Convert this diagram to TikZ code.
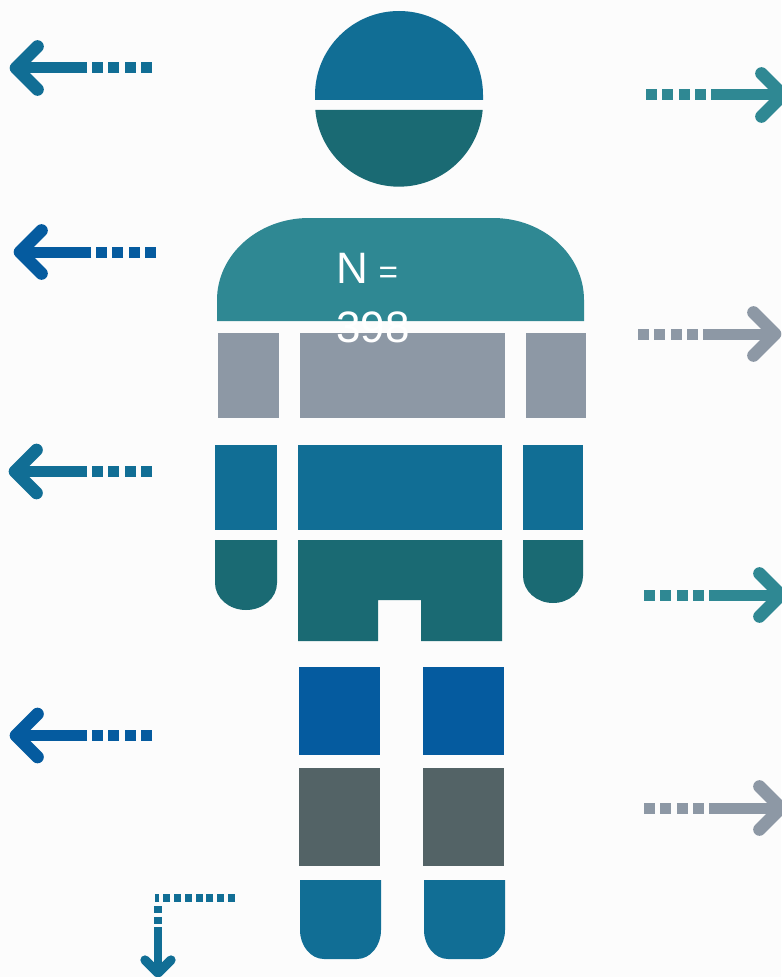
\documentclass[tikz,border=0pt]{standalone}
\usepackage{fontspec}
\setmainfont{Liberation Sans}
\usepackage{tikz}
\usetikzlibrary{calc}

\definecolor{pagebg}{HTML}{FCFCFC}
\definecolor{bodyblue}{HTML}{116E95}
\definecolor{deepblue}{HTML}{055B9F}
\definecolor{bodyteal}{HTML}{2F8893}
\definecolor{darkteal}{HTML}{1A6A73}
\definecolor{bodygray}{HTML}{8D98A5}
\definecolor{slategray}{HTML}{536366}

\begin{document}
\begin{tikzpicture}[
    x=0.75pt, y=-0.75pt,
    shaft/.style={line width=8.25pt},
    wings/.style={line width=9.5pt, line cap=round, line join=round},
    dots/.style={line width=8.25pt, dash pattern=on 8.25pt off 4.1pt},
    thinshaft/.style={line width=5.8pt},
    thinwings/.style={line width=7pt, line cap=round, line join=round},
    thindots/.style={line width=5.8pt, dash pattern=on 5.2pt off 2.9pt},
    label/.style={text=white, font=\fontsize{33}{44.5}\selectfont, align=left, anchor=north west, inner sep=0pt}
]

\useasboundingbox (0,0) rectangle (781,977);
\fill[pagebg] (0,0) rectangle (781,977);

% 1. Head
\fill[bodyblue] (315,100) -- (315,95) arc[start angle=180, end angle=360, radius=84] -- (483,100) -- cycle;
\fill[darkteal] (315.3,110) arc[start angle=175, end angle=5, radius=84] -- cycle;

% 2. Shoulders
\fill[bodyteal] (217,321) -- (217,300) arc[start angle=180, end angle=270, x radius=92, y radius=82]
    -- (493,218) arc[start angle=270, end angle=360, x radius=91, y radius=82] -- (584,321) -- cycle;

% 3. Arms and trunk
\fill[bodygray] (217.5,333) rectangle (279,418);
\fill[bodygray] (300,333) rectangle (505,418);
\fill[bodygray] (526,333) rectangle (586,418);
\fill[bodyblue] (215,445) rectangle (277,530);
\fill[bodyblue] (298,445) rectangle (502,530);
\fill[bodyblue] (523,445) rectangle (583,530);

% 4. Hands and hips
\fill[darkteal] (215,540) -- (277,540) -- (277,583) arc[start angle=0, end angle=180, x radius=31, y radius=27] -- cycle;
\fill[darkteal] (523,540) -- (583,540) -- (583,576) arc[start angle=0, end angle=180, x radius=30, y radius=27] -- cycle;
\fill[darkteal] (298,540) -- (502,540) -- (502,641) -- (421,641) -- (421,600) -- (378,600) -- (378,641) -- (298,641) -- cycle;

% 5. Legs
\fill[deepblue] (299,667) rectangle (380,755);
\fill[deepblue] (423,667) rectangle (504,755);
\fill[slategray] (299,768) rectangle (380,866);
\fill[slategray] (423,768) rectangle (504,866);
\fill[bodyblue] (300,880) -- (381,880) -- (381,930) arc[start angle=0, end angle=90, x radius=24, y radius=29]
    -- (324,959) arc[start angle=90, end angle=180, x radius=24, y radius=29] -- cycle;
\fill[bodyblue] (424,880) -- (505,880) -- (505,930) arc[start angle=0, end angle=90, x radius=24, y radius=29]
    -- (448,959) arc[start angle=90, end angle=180, x radius=24, y radius=29] -- cycle;

% Arrows to the left
\coordinate (tailA) at (152,68);
\coordinate (tipA) at (16,68);
\draw[dots, bodyblue] (tailA) -- +(-60,0);
\draw[shaft, bodyblue] ($(tailA)+(-65,0)$) -- (tipA);
\draw[wings, bodyblue] ($(tipA)+(21.5,-21.5)$) -- (tipA) -- ($(tipA)+(21.5,21.5)$);

\coordinate (tailB) at (156,252);
\coordinate (tipB) at (20,252);
\draw[dots, deepblue] (tailB) -- +(-60,0);
\draw[shaft, deepblue] ($(tailB)+(-65,0)$) -- (tipB);
\draw[wings, deepblue] ($(tipB)+(21.5,-21.5)$) -- (tipB) -- ($(tipB)+(21.5,21.5)$);

\coordinate (tailC) at (152,471.5);
\coordinate (tipC) at (15,471.5);
\draw[dots, bodyblue] (tailC) -- +(-60,0);
\draw[shaft, bodyblue] ($(tailC)+(-65,0)$) -- (tipC);
\draw[wings, bodyblue] ($(tipC)+(21.5,-21.5)$) -- (tipC) -- ($(tipC)+(21.5,21.5)$);

\coordinate (tailD) at (152,735.5);
\coordinate (tipD) at (16,735.5);
\draw[dots, deepblue] (tailD) -- +(-60,0);
\draw[shaft, deepblue] ($(tailD)+(-65,0)$) -- (tipD);
\draw[wings, deepblue] ($(tipD)+(21.5,-21.5)$) -- (tipD) -- ($(tipD)+(21.5,21.5)$);

% Arrows to the right
\coordinate (tailE) at (646,95);
\coordinate (tipE) at (783,95);
\draw[dots, bodyteal] (tailE) -- +(60,0);
\draw[shaft, bodyteal] ($(tailE)+(65,0)$) -- (tipE);
\draw[wings, bodyteal] ($(tipE)+(-21.5,-21.5)$) -- (tipE) -- ($(tipE)+(-21.5,21.5)$);

\coordinate (tailF) at (638,334);
\coordinate (tipF) at (775,334);
\draw[dots, bodygray] (tailF) -- +(60,0);
\draw[shaft, bodygray] ($(tailF)+(65,0)$) -- (tipF);
\draw[wings, bodygray] ($(tipF)+(-21.5,-21.5)$) -- (tipF) -- ($(tipF)+(-21.5,21.5)$);

\coordinate (tailG) at (644,595);
\coordinate (tipG) at (781,595);
\draw[dots, bodyteal] (tailG) -- +(60,0);
\draw[shaft, bodyteal] ($(tailG)+(65,0)$) -- (tipG);
\draw[wings, bodyteal] ($(tipG)+(-21.5,-21.5)$) -- (tipG) -- ($(tipG)+(-21.5,21.5)$);

\coordinate (tailH) at (644,808);
\coordinate (tipH) at (781,808);
\draw[dots, bodygray] (tailH) -- +(60,0);
\draw[shaft, bodygray] ($(tailH)+(65,0)$) -- (tipH);
\draw[wings, bodygray] ($(tipH)+(-21.5,-21.5)$) -- (tipH) -- ($(tipH)+(-21.5,21.5)$);

% Arrow down
\coordinate (tailJ) at (235,898);
\coordinate (bendJ) at (158,898);
\coordinate (tipJ) at (158,973);
\draw[thindots, bodyblue] (tailJ) -- ($(bendJ)+(-3,0)$);
\draw[thindots, bodyblue] ($(bendJ)+(0,8)$) -- ($(bendJ)+(0,27)$);
\draw[thinshaft, bodyblue] ($(bendJ)+(0,29)$) -- (tipJ);
\draw[thinwings, bodyblue] ($(tipJ)+(-13,-13)$) -- (tipJ) -- ($(tipJ)+(13,-13)$);

% Sample size
\node[label] (sample) at (336,253) {N\kern8pt{\fontsize{25}{25}\selectfont =}\\398};

\end{tikzpicture}
\end{document}
